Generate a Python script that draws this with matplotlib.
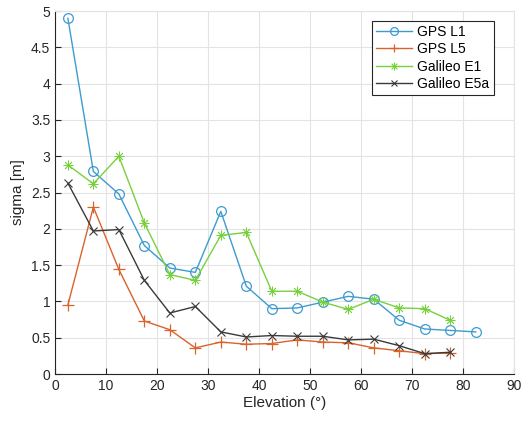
import numpy as np
import matplotlib
matplotlib.use('Agg')
import matplotlib.pyplot as plt

# elevation bins (deg)
elev = [2.5, 7.5, 12.5, 17.5, 22.5, 27.5, 32.5, 37.5, 42.5, 47.5,
        52.5, 57.5, 62.5, 67.5, 72.5, 77.5, 82.5]

gps_l1 = [4.90, 2.79, 2.48, 1.77, 1.46, 1.40, 2.24, 1.21, 0.90, 0.91,
          0.99, 1.07, 1.03, 0.74, 0.62, 0.60, 0.58]
gps_l5 = [0.95, 2.30, 1.44, 0.73, 0.61, 0.36, 0.44, 0.41, 0.42, 0.47,
          0.44, 0.43, 0.36, 0.32, 0.28, 0.29]
gal_e1 = [2.88, 2.62, 3.00, 2.08, 1.37, 1.29, 1.91, 1.95, 1.14, 1.14,
          0.99, 0.89, 1.03, 0.91, 0.90, 0.74]
gal_e5a = [2.63, 1.97, 1.99, 1.29, 0.84, 0.93, 0.58, 0.51, 0.53, 0.52,
           0.52, 0.47, 0.48, 0.39, 0.28, 0.30]

plt.rcParams['font.family'] = ['Liberation Sans', 'DejaVu Sans']

fig = plt.figure(figsize=(5.25, 4.25), dpi=100)
ax = fig.add_axes([0.105, 0.12, 0.874, 0.854])

# matlab-like asterisk: 8 spokes
asterisk = (8, 2, 0)

ax.plot(elev, gps_l1, color='#3d9bd0', lw=1, marker='o', ms=7, mfc='none', mew=0.9, label='GPS L1')
ax.plot(elev[:len(gps_l5)], gps_l5, color='#d9632b', lw=1, marker='+', ms=8, mew=0.9, label='GPS L5')
ax.plot(elev[:len(gal_e1)], gal_e1, color='#77d13d', lw=1, marker=asterisk, ms=7, mew=0.6, label='Galileo E1')
ax.plot(elev[:len(gal_e5a)], gal_e5a, color='#3a3a3a', lw=1, marker='x', ms=5.5, mew=0.8, label='Galileo E5a')

ax.set_xlim(0, 90)
ax.set_ylim(0, 5)
ax.set_xticks(np.arange(0, 91, 10))
ax.set_yticks(np.arange(0, 5.01, 0.5))
ax.set_yticklabels(['0', '0.5', '1', '1.5', '2', '2.5', '3', '3.5', '4', '4.5', '5'])
ax.grid(True, color='#e3e3e3', lw=0.8)
ax.set_axisbelow(True)
ax.tick_params(direction='in', labelsize=10, colors='#262626', length=4)
for s in ['top', 'right']:
    ax.spines[s].set_color('#e3e3e3')
for s in ['left', 'bottom']:
    ax.spines[s].set_color('#262626')

ax.set_xlabel('Elevation (°)', fontsize=11, color='#262626', labelpad=2)
ax.set_ylabel('sigma [m]', fontsize=11, color='#262626', labelpad=4)

leg = ax.legend(loc='upper right', bbox_to_anchor=(0.965, 0.985), fontsize=10, fancybox=False,
                edgecolor='#262626', framealpha=1, handlelength=2.6, handletextpad=0.4,
                borderpad=0.3, labelspacing=0.25, borderaxespad=0.3, markerscale=0.8)
leg.get_frame().set_linewidth(0.8)

fig.savefig('out.png', dpi=100)
